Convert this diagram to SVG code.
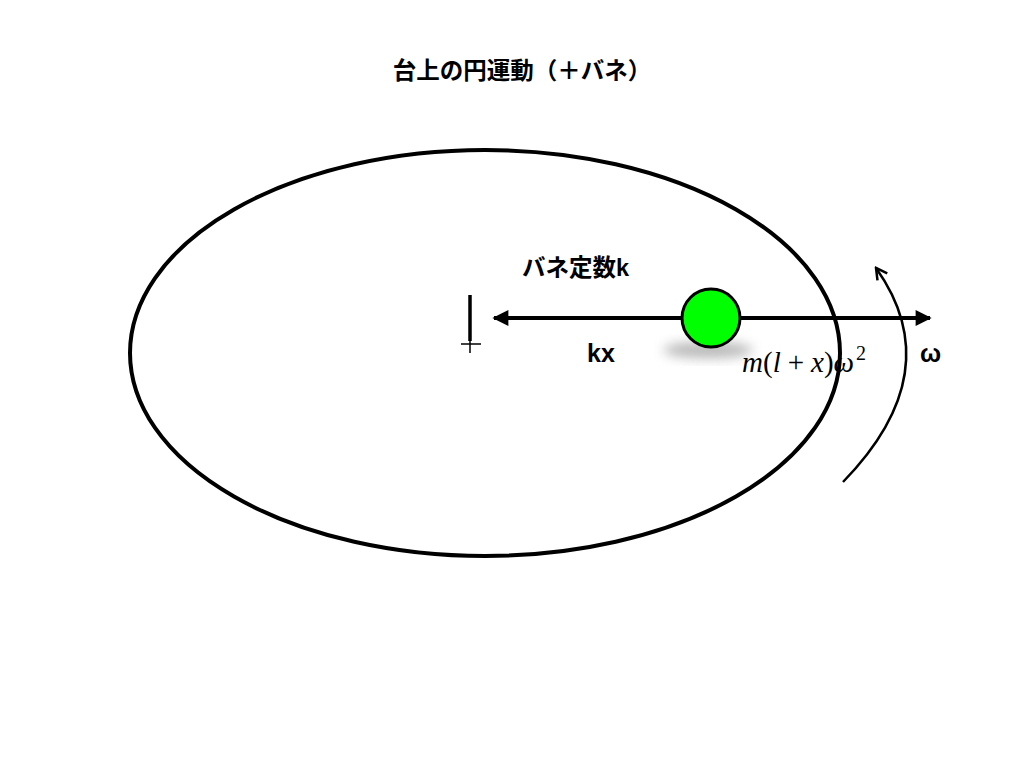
<svg xmlns="http://www.w3.org/2000/svg" width="1024" height="768" viewBox="0 0 1024 768">
<defs>
<style>
.ln{stroke:#000;stroke-width:4;fill:none}
.lbl{font-family:"Liberation Sans","Noto Sans CJK JP",sans-serif;font-weight:bold;fill:#000}
.math{font-family:"Liberation Serif",serif;fill:#000}
.it{font-style:italic}
</style>
<marker id="ah" viewBox="0 0 10 10" refX="9" refY="5" markerWidth="5" markerHeight="4" orient="auto-start-reverse" markerUnits="strokeWidth">
<path d="M0,0 L10,5 L0,10 Z" fill="#000"/>
</marker>
<marker id="oh" viewBox="0 0 14 14" refX="12" refY="7" markerWidth="14" markerHeight="14" orient="auto" markerUnits="userSpaceOnUse">
<path d="M1,1 L12,7 L1,13" fill="none" stroke="#000" stroke-width="2.5"/>
</marker>
<filter id="blur" x="-50%" y="-50%" width="200%" height="200%"><feGaussianBlur stdDeviation="6"/></filter>
</defs>
<rect width="1024" height="768" fill="#fff"/>
<text class="lbl" x="522" y="79" font-size="23.5" text-anchor="middle">台上の円運動（＋バネ）</text>
<g id="table">
<ellipse cx="485" cy="353" rx="355" ry="203" class="ln"/>
</g>
<g id="pivot">
<line x1="470" y1="295" x2="470" y2="341" stroke="#000" stroke-width="3.5"/>
<line x1="470" y1="340" x2="470" y2="353" stroke="#000" stroke-width="1.5"/>
<line x1="461" y1="344" x2="481" y2="344" stroke="#000" stroke-width="1.5"/>
</g>
<g id="connectors">
<line x1="494" y1="318" x2="930" y2="318" class="ln" marker-start="url(#ah)" marker-end="url(#ah)"/>
<path d="M843,482 Q950,372 876,268" stroke="#000" stroke-width="2.5" fill="none" marker-end="url(#oh)"/>
</g>
<g id="mass">
<ellipse cx="708" cy="350" rx="45" ry="8" fill="#888" opacity="0.6" filter="url(#blur)"/>
<circle cx="711" cy="318" r="29" fill="#00ff00" stroke="#000" stroke-width="3"/>
</g>
<text class="lbl" x="522" y="276" font-size="23.5">バネ定数k</text>
<text class="lbl" x="587" y="362" font-size="25">kx</text>
<text class="math" x="742" y="372" font-size="29"><tspan class="it">m</tspan>(<tspan class="it">l</tspan><tspan dx="7">+</tspan><tspan class="it" dx="7">x</tspan>)<tspan class="it">ω</tspan><tspan font-size="20" dy="-12" dx="2">2</tspan></text>
<text class="lbl" x="920" y="362" font-size="25">ω</text>
</svg>
